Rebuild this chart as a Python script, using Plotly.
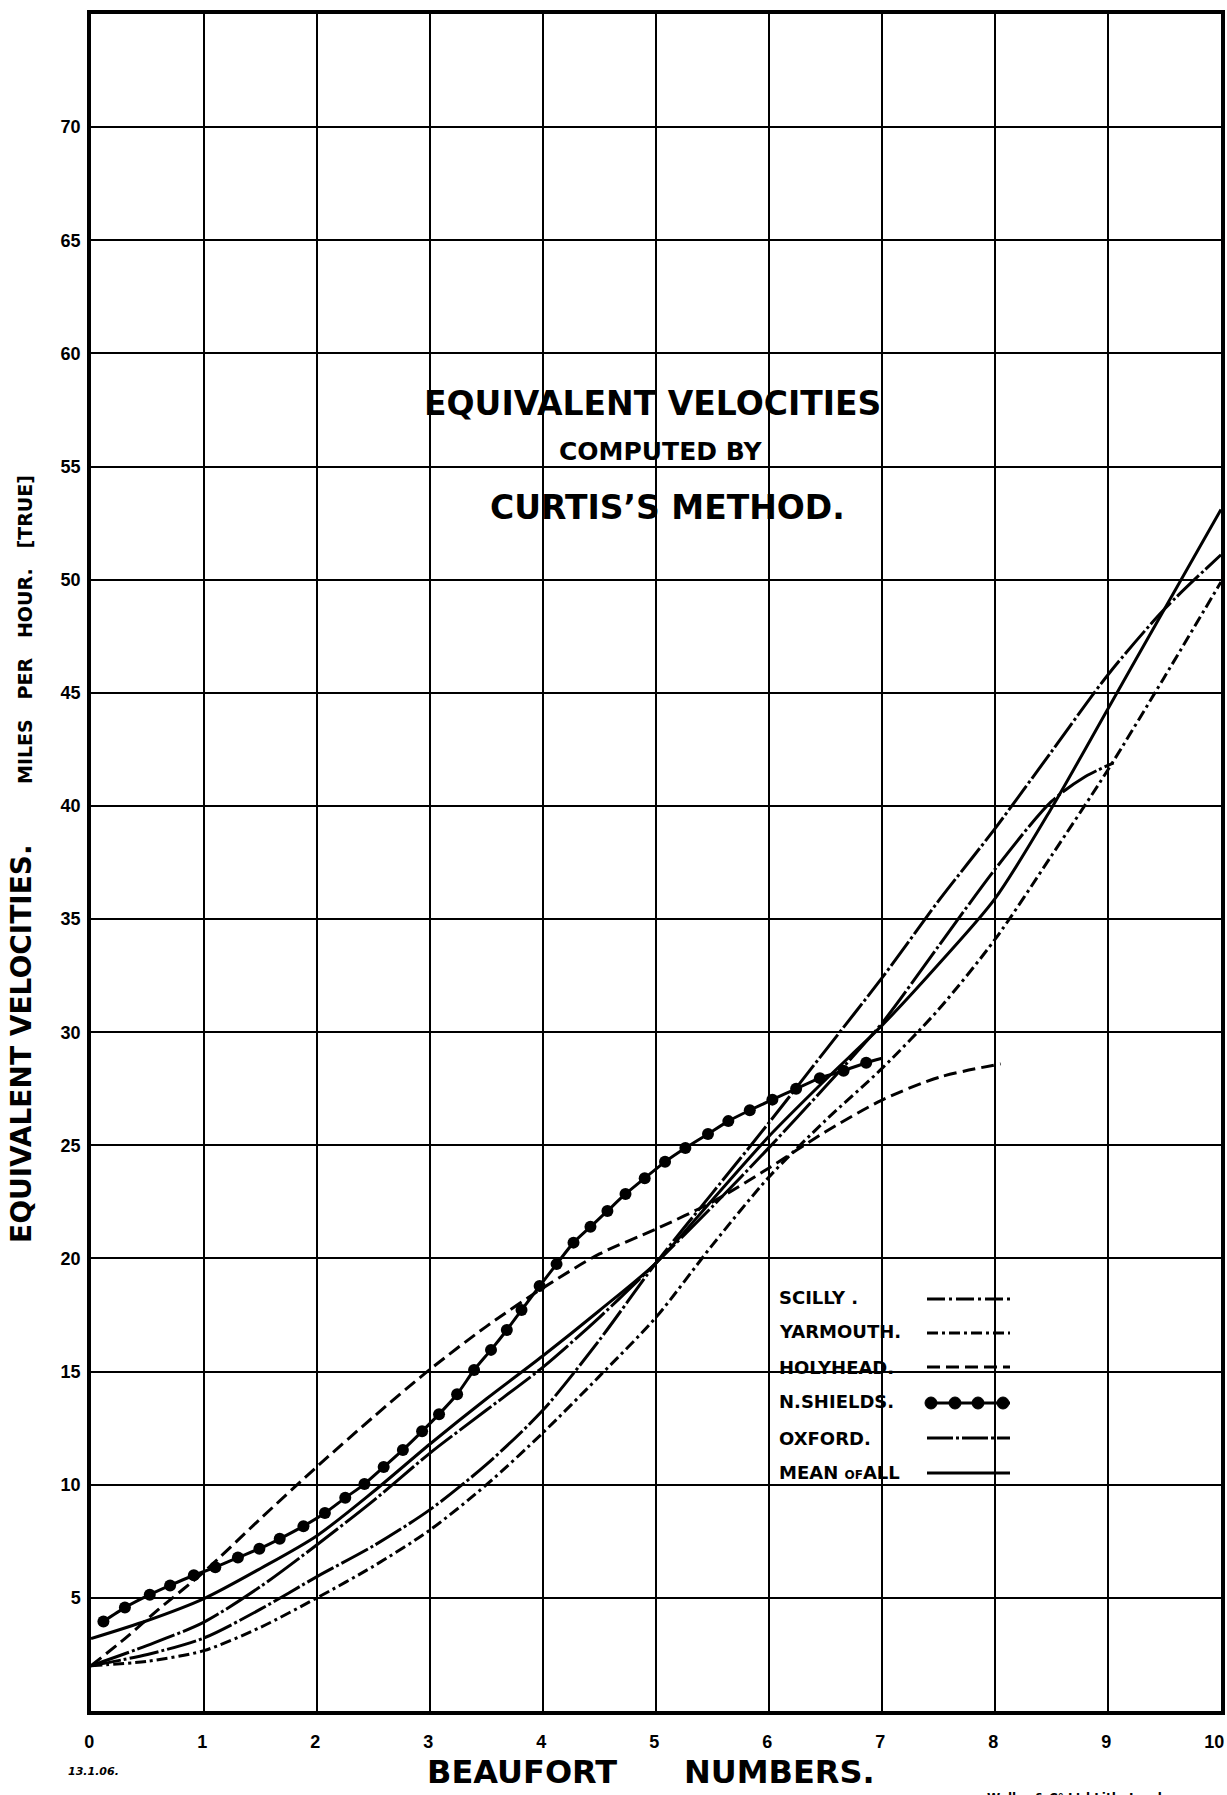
import plotly.graph_objects as go

# ---------------- data ----------------
beaufort_ticks = list(range(0, 11))
beaufort_labels = [str(v) for v in beaufort_ticks]
velocity_ticks = list(range(5, 75, 5))

# N. Shields (dotted curve)
shields_x = [0.11, 0.30, 0.52, 0.70, 0.91, 1.10, 1.30, 1.49, 1.67, 1.88, 2.07, 2.25, 2.42,
             2.59, 2.76, 2.93, 3.08, 3.24, 3.39, 3.54, 3.68, 3.81, 3.97, 4.12, 4.27, 4.42,
             4.57, 4.73, 4.90, 5.08, 5.26, 5.46, 5.64, 5.83, 6.03, 6.24, 6.45, 6.66, 6.86, 7.0]
shields_y = [3.96, 4.57, 5.14, 5.55, 6.0, 6.35, 6.78, 7.17, 7.61, 8.17, 8.75, 9.42, 10.03,
             10.78, 11.54, 12.36, 13.12, 14.0, 15.07, 15.96, 16.84, 17.72, 18.78, 19.75, 20.7, 21.4,
             22.1, 22.85, 23.55, 24.27, 24.88, 25.5, 26.07, 26.55, 27.02, 27.5, 27.97, 28.3, 28.65, 28.85]

# Mean of all (solid)
mean_x = [0, 0.5, 1, 1.5, 2, 2.5, 3, 3.5, 4, 4.5, 5, 5.5, 6, 6.5, 7, 7.5, 8, 8.5, 9, 9.5, 10]
mean_y = [3.2, 4.0, 4.97, 6.3, 7.75, 9.7, 11.8, 13.8, 15.7, 17.7, 19.8, 22.6, 25.4, 27.9, 30.3, 33.0, 35.9, 39.9, 44.3, 48.7, 53.1]

# Oxford
oxford_x = [0, 0.5, 1, 1.5, 2, 2.5, 3, 3.5, 4, 4.5, 5, 5.5, 6, 6.5, 7, 7.5, 8, 8.5, 8.8, 9.05]
oxford_y = [2.0, 2.9, 3.93, 5.5, 7.35, 9.3, 11.4, 13.3, 15.2, 17.4, 19.8, 22.3, 24.9, 27.6, 30.4, 33.8, 37.2, 40.2, 41.3, 41.9]

# Scilly
scilly_x = [0, 0.5, 1, 1.5, 2, 2.5, 3, 3.5, 4, 4.5, 5, 5.5, 6, 6.5, 7, 7.5, 8, 8.5, 9, 9.5, 10]
scilly_y = [2.0, 2.5, 3.23, 4.5, 5.94, 7.3, 8.9, 10.9, 13.3, 16.4, 19.8, 22.9, 26.0, 29.2, 32.4, 35.8, 39.0, 42.4, 45.8, 48.7, 51.1]

# Yarmouth
yarmouth_x = [0, 0.5, 1, 1.5, 2, 2.5, 3, 3.5, 4, 4.5, 5, 5.5, 6, 6.5, 7, 7.5, 8, 8.5, 9, 9.5, 10]
yarmouth_y = [2.0, 2.2, 2.67, 3.7, 5.0, 6.4, 8.0, 10.0, 12.3, 14.8, 17.4, 20.6, 23.6, 26.1, 28.4, 31.0, 34.1, 37.8, 41.6, 45.7, 49.9]

# Holyhead
holyhead_x = [0, 0.3, 0.6, 1, 1.5, 2, 2.5, 3, 3.5, 4, 4.5, 5, 5.5, 6, 6.5, 7, 7.5, 8.05]
holyhead_y = [2.0, 3.2, 4.5, 6.15, 8.5, 10.8, 13.0, 15.1, 17.0, 18.7, 20.2, 21.3, 22.5, 24.0, 25.6, 27.0, 28.0, 28.6]

legend_labels = ["SCILLY .", "YARMOUTH.", "HOLYHEAD.", "N.SHIELDS.", "OXFORD.",
                 "MEAN <span style='font-size:12px'>OF</span>ALL"]

# ---------------- styles ----------------
W, H = 1227, 1795
L, R, T, B = 91, 1221, 14, 1711
FONT = "DejaVu Sans"
LW = 3
styles = {
    "scilly": "30px,3px,3px,3px",
    "yarmouth": "11px,4px,3px,4px",
    "holyhead": "13px,6px",
    "oxford": "40px,3px,3px,3px",
    "mean": "solid",
}

def px(x):
    return (x - L) / (R - L)

def py(y):
    return (B - y) / (B - T)

fig = go.Figure()

def add_curve(x, y, dash, name):
    fig.add_trace(go.Scatter(x=x, y=y, mode="lines", name=name,
                             line=dict(color="black", width=LW, dash=dash, shape="spline", smoothing=0.8),
                             showlegend=False, hoverinfo="skip"))

add_curve(yarmouth_x, yarmouth_y, styles["yarmouth"], "Yarmouth")
add_curve(scilly_x, scilly_y, styles["scilly"], "Scilly")
add_curve(holyhead_x, holyhead_y, styles["holyhead"], "Holyhead")
add_curve(oxford_x, oxford_y, styles["oxford"], "Oxford")
add_curve(mean_x, mean_y, styles["mean"], "Mean of all")

sizes = [12] * (len(shields_x) - 1) + [0]
fig.add_trace(go.Scatter(x=shields_x, y=shields_y, mode="lines+markers", name="N. Shields",
                         line=dict(color="black", width=LW, shape="spline", smoothing=0.6),
                         marker=dict(color="black", size=sizes, opacity=1, line=dict(width=0)),
                         showlegend=False, hoverinfo="skip"))

tickfont = dict(family="Liberation Sans", size=18, color="black", weight="bold")
fig.update_xaxes(range=[0, 10], tickvals=beaufort_ticks, ticktext=beaufort_labels,
                 showgrid=True, gridcolor="black", gridwidth=2, zeroline=False,
                 showline=True, mirror=True, linecolor="black", linewidth=3.5,
                 ticks="", tickfont=tickfont, ticklabelstandoff=12,
                 ticklabelposition="outside left", ticklabelshift=5, automargin=False)
fig.update_yaxes(range=[0, 75], tickvals=velocity_ticks, ticktext=[str(v) for v in velocity_ticks],
                 showgrid=True, gridcolor="black", gridwidth=2, zeroline=False,
                 showline=True, mirror=True, linecolor="black", linewidth=3.5,
                 ticks="", tickfont=tickfont, ticklabelstandoff=3, automargin=False)

ann = []
def text(x, y, s, size, xanchor="center", yanchor="middle", angle=0, italic=False):
    ann.append(dict(x=px(x), y=py(y), xref="paper", yref="paper", text=s, showarrow=False,
                    xanchor=xanchor, yanchor=yanchor, textangle=angle,
                    font=dict(family=FONT, size=size, color="black", weight="bold",
                              style="italic" if italic else "normal")))

text(652, 403, "EQUIVALENT VELOCITIES", 33)
text(660, 452, "COMPUTED BY", 25)
text(667, 507, "CURTIS\u2019S METHOD.", 33)
text(21, 1044, "EQUIVALENT VELOCITIES.", 28, angle=-90)
text(25, 630, "MILES\u00a0\u00a0\u00a0PER\u00a0\u00a0\u00a0HOUR.\u00a0\u00a0\u00a0[TRUE]", 19, angle=-90)
text(651, 1772, "BEAUFORT" + "\u00a0" * 6 + "NUMBERS.", 32)
text(93, 1771, "13.1.06.", 11, italic=True)
text(681, 4, "F I G U R E\u00a0\u00a0 6.", 22, yanchor="bottom")
text(1083, 1789, "Waller & C\u00b0 Ltd Lith. London", 12, yanchor="top")

# legend (text left, sample right)
leg_text_y = [1297, 1331, 1367, 1401, 1438, 1472]
leg_line_y = [1299, 1333, 1367, 1403, 1438, 1473]
for lab, yy in zip(legend_labels, leg_text_y):
    text(777, yy, lab, 18, xanchor="left")
fig.update_layout(annotations=ann)

leg_dash = ["18px,4px,3px,4px", styles["yarmouth"], styles["holyhead"], "solid", "26px,3px,3px,3px", "solid"]
shapes = []
for d, yy in zip(leg_dash, leg_line_y):
    shapes.append(dict(type="line", xref="paper", yref="paper", x0=px(927), x1=px(1010),
                       y0=py(yy), y1=py(yy), line=dict(color="black", width=LW, dash=d)))
for cx in [931, 955, 978, 1003]:
    r = 6
    shapes.append(dict(type="circle", xref="paper", yref="paper", x0=px(cx - r), x1=px(cx + r),
                       y0=py(leg_line_y[3] + r), y1=py(leg_line_y[3] - r),
                       fillcolor="black", line=dict(color="black", width=1)))
fig.update_layout(shapes=shapes)

fig.update_layout(width=W, height=H, autosize=False,
                  margin=dict(l=L, r=W - R, t=T, b=H - B, pad=0),
                  paper_bgcolor="white", plot_bgcolor="white", showlegend=False)

fig.write_html("out.html",
               config={"responsive": False, "displayModeBar": False},
               post_script="document.body.style.margin='0';")
